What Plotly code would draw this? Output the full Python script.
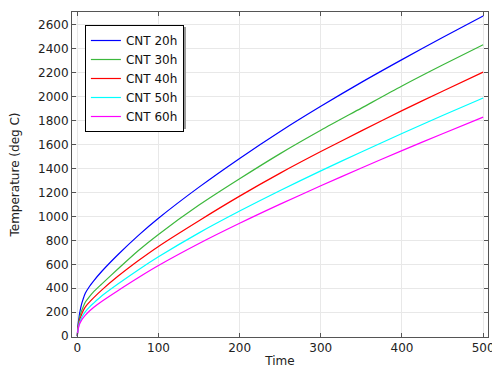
import plotly.graph_objects as go

time = [0, 1, 2, 3, 5, 7, 10, 15, 20, 30, 50, 75, 100, 150, 200, 250, 300, 350, 400, 450, 500]
cnt_20h = [0, 100, 150, 195, 260, 305, 360, 415, 460, 540, 680, 840, 985, 1245, 1485, 1710, 1920, 2120, 2310, 2495, 2675]
cnt_30h = [0, 85, 125, 160, 205, 240, 285, 330, 370, 435, 561, 714, 850, 1095, 1315, 1525, 1720, 1905, 2090, 2265, 2435]
cnt_40h = [0, 75, 110, 138, 175, 208, 245, 285, 320, 385, 500, 630, 750, 965, 1170, 1362, 1542, 1715, 1884, 2046, 2206]
cnt_50h = [0, 62, 95, 118, 150, 175, 205, 243, 275, 335, 435, 553, 663, 863, 1045, 1217, 1381, 1539, 1693, 1843, 1990]
cnt_60h = [0, 55, 83, 103, 130, 150, 175, 210, 240, 290, 380, 488, 590, 774, 943, 1103, 1256, 1405, 1550, 1691, 1830]

series = [
    ("CNT 20h", cnt_20h, "#0000ff"),
    ("CNT 30h", cnt_30h, "#3cb83c"),
    ("CNT 40h", cnt_40h, "#ff0000"),
    ("CNT 50h", cnt_50h, "#00ffff"),
    ("CNT 60h", cnt_60h, "#ff00ff"),
]

fig = go.Figure()
for name, vals, col in series:
    fig.add_trace(go.Scatter(x=time, y=vals, mode="lines", name=name,
                             line=dict(color=col, width=1.2, shape="spline", smoothing=0.8)))

font = dict(family="DejaVu Sans", size=12, color="#222")
axis_common = dict(showline=True, linecolor="#555", linewidth=1, mirror="ticks",
                   ticks="inside", ticklen=4, tickcolor="#555",
                   showgrid=True, gridcolor="#e8e8e8", gridwidth=1, zeroline=False,
                   tickfont=font, automargin=False)

# the page body adds an 8px offset; margins compensate for it
fig.update_layout(
    width=500, height=375,
    margin=dict(l=64, r=20, t=4, b=46),
    paper_bgcolor="white", plot_bgcolor="white",
    font=font,
    xaxis=dict(range=[-6.5, 506], dtick=100, tick0=0,
               title=dict(text="Time", font=font, standoff=2), **axis_common),
    yaxis=dict(range=[-7, 2708], dtick=200, tick0=0,
               title=dict(text="Temperature (deg C)", font=font, standoff=22), **axis_common),
    legend=dict(x=0.031, y=0.96, xanchor="left", yanchor="top",
                bgcolor="white", bordercolor="#000", borderwidth=1,
                font=dict(family="DejaVu Sans", size=12, color="#111"),
                tracegroupgap=0),
    showlegend=True,
    shapes=[dict(type="rect", xref="paper", yref="paper",
                 x0=15 / 416, x1=114 / 416, y0=(337 - 129) / 325, y1=(337 - 27) / 325,
                 fillcolor="#9a9a9a", line=dict(width=0), layer="above")],
)

fig.write_html("out.html")
